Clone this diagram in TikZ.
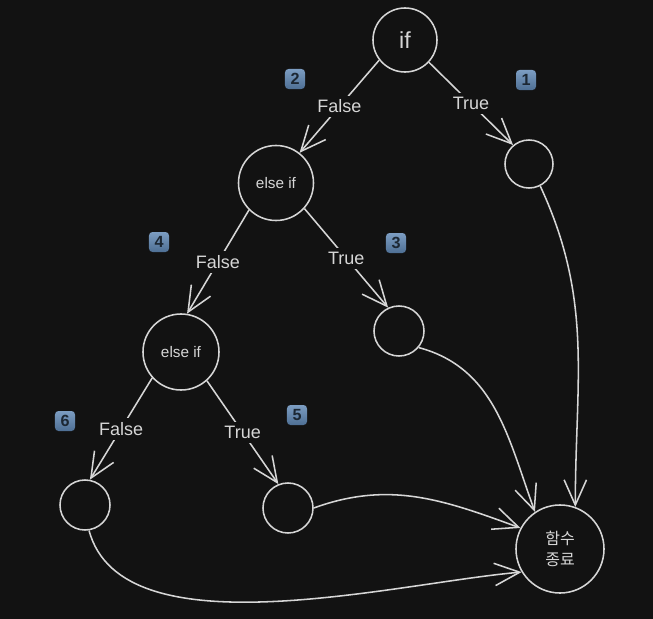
\documentclass[tikz,border=0pt]{standalone}
\usepackage{fontspec}
\setmainfont{Liberation Sans}
\newfontfamily\krfont{Noto Sans CJK KR}
\usetikzlibrary{shapes.geometric, arrows.meta}
\definecolor{bgdark}{HTML}{121212}
\definecolor{inkgray}{HTML}{D6D6D6}
\definecolor{badgetop}{HTML}{7C9DC2}
\definecolor{badgebot}{HTML}{4E6F94}
\definecolor{badgeink}{HTML}{1C2733}

\begin{document}
\begin{tikzpicture}
      [x=0.025cm, y=0.025cm,
      cond/.style={circle, draw=inkgray, line width=1.1pt, text=inkgray,
      inner sep=0pt, align=center},
      lbl/.style={fill=bgdark, text=inkgray, inner sep=3pt,
      font=\fontsize{12.8}{15}\selectfont},
      badge/.style={rectangle, rounded corners=2.5pt, top color=badgetop,
      bottom color=badgebot, text=badgeink, inner sep=0pt,
      minimum size=0.5cm, font=\fontsize{11.5}{12}\selectfont\bfseries},
      line/.style={draw=inkgray, line width=1.1pt,
      -{Straight Barb[length=6.3mm, width=5.6mm]}}]

      \useasboundingbox (0,0) rectangle (653,-619);
      \fill[bgdark] (0,0) rectangle (653,-619);

      % decision nodes
      \node [cond, minimum size=1.6cm, font=\fontsize{16.5}{18}\selectfont]
            (if) at (405,-40) {if};
      \node [cond, minimum size=1.875cm, font=\fontsize{10.9}{12}\selectfont]
            (elseif1) at (276,-183) {else if};
      \node [cond, minimum size=1.9cm, font=\fontsize{10.9}{12}\selectfont]
            (elseif2) at (181,-352) {else if};
      % branch bodies
      \node [cond, minimum size=1.2cm] (n1) at (529,-164) {};
      \node [cond, minimum size=1.25cm] (n3) at (399,-331) {};
      \node [cond, minimum size=1.25cm] (n5) at (288,-508) {};
      \node [cond, minimum size=1.25cm] (n6) at (85,-505) {};
      \node [cond, minimum size=2.2cm, font=\krfont\fontsize{11.4}{15}\selectfont]
            (fin) at (560,-549) {함수\\종료};

      % step badges
      \node [badge] (badge1) at (526,-80) {1};
      \node [badge] (badge2) at (295,-79) {2};
      \node [badge] (badge3) at (396,-243) {3};
      \node [badge] (badge4) at (159,-242) {4};
      \node [badge] (badge5) at (297,-415) {5};
      \node [badge] (badge6) at (65,-421) {6};

      \begin{scope}[every path/.style=line]
        \path (if.218) -- node [lbl] {False} (elseif1.52);
        \path (if.317) -- node [lbl] {True} (n1.130);
        \path (elseif1.225) -- node [lbl] {False} (elseif2.81);
        \path (elseif1.318) -- node [lbl] {True} (n3.115);
        \path (elseif2.222) -- node [lbl] {False} (n6.79);
        \path (elseif2.312) -- node [lbl] {True} (n5.112);
        \path (n1.297) to [out=-65, in=90] (fin.70);
        \path (n3.-40) to [out=-15, in=110] (fin.124);
        \path (n5.0) to [out=20, in=160] (fin.152);
        \path (n6.279) to [out=-75, in=185, looseness=0.75] (fin.211);
      \end{scope}

\end{tikzpicture}
\end{document}
